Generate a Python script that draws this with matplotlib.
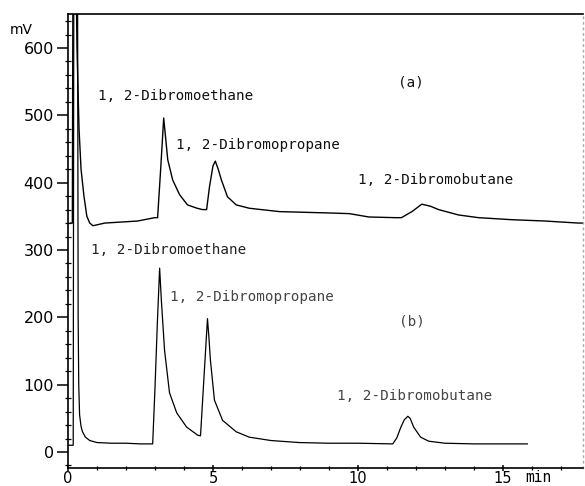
import matplotlib
matplotlib.use("Agg")
import matplotlib.pyplot as plt
from matplotlib.ticker import MultipleLocator

# ---- data (time in min, signal in mV) ----
time_a = [0.08, 0.15, 0.17, 0.28, 0.31, 0.38, 0.45, 0.55, 0.65, 0.75, 0.86, 1.27, 2.4,
          2.99, 3.09, 3.2, 3.3, 3.44, 3.61, 3.85, 4.12, 4.45, 4.64, 4.78, 4.88, 5.0,
          5.08, 5.18, 5.29, 5.5, 5.8, 6.25, 7.29, 9.0, 9.7, 10.38, 11.3, 11.5, 11.86,
          12.2, 12.5, 12.78, 13.47, 14.16, 15.3, 16.46, 17.6, 17.76]
signal_a = [340, 340, 700, 700, 600, 480, 420, 380, 350, 340, 336, 340, 343,
            348, 348, 423, 496, 434, 404, 382, 367, 362, 360, 360, 394, 425,
            432, 420, 404, 379, 367, 362, 357, 355, 354, 349, 348, 348, 357,
            368, 365, 360, 352, 348, 345, 343, 340, 340]

time_b = [0.02, 0.18, 0.2, 0.33, 0.35, 0.37, 0.4, 0.45, 0.5, 0.6, 0.75, 1.0, 1.5, 2.0,
          2.5, 2.92, 3.0, 3.08, 3.16, 3.22, 3.33, 3.5, 3.75, 4.09, 4.47, 4.57, 4.64,
          4.72, 4.81, 4.86, 4.91, 5.05, 5.33, 5.8, 6.25, 7.0, 7.97, 9.0, 10.0, 11.2,
          11.34, 11.48, 11.6, 11.72, 11.8, 11.92, 12.16, 12.44, 13.0, 14.0, 15.0, 15.84]
signal_b = [10, 10, 700, 700, 200, 100, 55, 38, 30, 22, 17, 14, 13, 13,
            12, 12, 95, 190, 273, 225, 151, 88, 58, 37, 25, 24, 75,
            133, 198, 170, 137, 77, 47, 30, 22, 17, 14, 13, 13, 12,
            21, 37, 48, 53, 50, 37, 22, 16, 13, 12, 12, 12]

x_ticks = [0, 5, 10, 15]
x_tick_labels = ["0", "5", "10", "15"]
y_ticks = [0, 100, 200, 300, 400, 500, 600]
y_tick_labels = ["0", "100", "200", "300", "400", "500", "600"]

labels_a = ["1, 2-Dibromoethane", "1, 2-Dibromopropane", "1, 2-Dibromobutane", "(a)"]
labels_b = ["1, 2-Dibromoethane", "1, 2-Dibromopropane", "1, 2-Dibromobutane", "(b)"]

# ---- figure ----
W, H = 585, 486
fig = plt.figure(figsize=(W / 100, H / 100), dpi=100)
fig.patch.set_facecolor("white")

def fx(px):
    return px / W

def fy(py):
    return 1 - py / H

ax = fig.add_axes([fx(68), fy(468), (583 - 68) / W, (468 - 14) / H])
ax.set_xlim(0, 17.76)
ax.set_ylim(-23.8, 650.5)

ax.plot(time_a, signal_a, color="black", lw=1.0, solid_joinstyle="round")
ax.plot(time_b, signal_b, color="black", lw=0.9, solid_joinstyle="round")

for s in ["left", "bottom", "top"]:
    ax.spines[s].set_linewidth(1.2)
    ax.spines[s].set_color("black")
ax.spines["right"].set_color("#aaaaaa")
ax.spines["right"].set_linestyle((0, (1, 3)))
ax.spines["right"].set_linewidth(1.0)

ax.set_xticks(x_ticks)
ax.set_xticklabels(x_tick_labels)
ax.set_yticks(y_ticks)
ax.set_yticklabels(y_tick_labels)
ax.xaxis.set_minor_locator(MultipleLocator(1))
ax.yaxis.set_minor_locator(MultipleLocator(20))

ax.tick_params(axis="y", which="major", direction="out", length=8, width=1.1,
               labelsize=11.5, pad=2)
ax.tick_params(axis="y", which="minor", direction="inout", length=4, width=0.9)
ax.tick_params(axis="x", which="major", direction="inout", length=5, width=1.1,
               labelsize=10.5, pad=0)
ax.tick_params(axis="x", which="minor", direction="inout", length=3, width=0.9)
ax.tick_params(top=False, right=False, which="both")
for lab in ax.get_xticklabels() + ax.get_yticklabels():
    lab.set_family("DejaVu Sans")

mono = "DejaVu Sans Mono"
fs = 10.3
# curve labels (a)
fig.text(fx(98), fy(96), labels_a[0], family=mono, fontsize=fs, ha="left", va="center", color="#111111")
fig.text(fx(176), fy(145), labels_a[1], family=mono, fontsize=fs, ha="left", va="center", color="#111111")
fig.text(fx(358), fy(180), labels_a[2], family=mono, fontsize=fs, ha="left", va="center", color="#111111")
fig.text(fx(411), fy(83), labels_a[3], family=mono, fontsize=fs, ha="center", va="center", color="#111111")
# curve labels (b)
fig.text(fx(91), fy(250), labels_b[0], family=mono, fontsize=fs, ha="left", va="center", color="#222222")
fig.text(fx(170), fy(297), labels_b[1], family=mono, fontsize=fs, ha="left", va="center", color="#444444")
fig.text(fx(337), fy(396), labels_b[2], family=mono, fontsize=fs, ha="left", va="center", color="#444444")
fig.text(fx(412), fy(321), labels_b[3], family=mono, fontsize=fs, ha="center", va="center", color="#444444")

# axis unit labels
fig.text(fx(21), fy(30), "mV", family="DejaVu Sans", fontsize=10, ha="center", va="center")
fig.text(fx(538), fy(477), "min", family=mono, fontsize=10.5, ha="center", va="center")

fig.savefig("out.png", dpi=100, facecolor="white")
